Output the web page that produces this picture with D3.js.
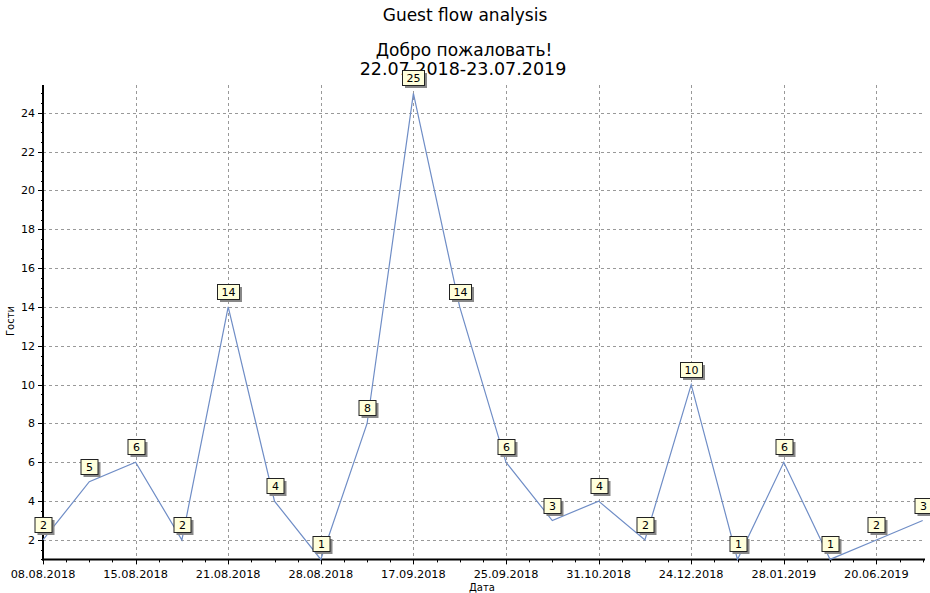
<!DOCTYPE html>
<html><head><meta charset="utf-8">
<script src="https://cdn.jsdelivr.net/npm/d3@7"></script>
<style>body{margin:0;background:#fff}svg{display:block}</style>
</head><body>
<svg id="c" width="930" height="593"></svg>
<script>
const values = [2,5,6,2,14,4,1,8,25,14,6,3,4,2,10,1,6,1,2,3];
const tickLabels = ["08.08.2018","15.08.2018","21.08.2018","28.08.2018","17.09.2018","25.09.2018","31.10.2018","24.12.2018","28.01.2019","20.06.2019"];
const yTicks = [2,4,6,8,10,12,14,16,18,20,22,24];
const title = "Guest flow analysis";
const subtitle1 = "Добро пожаловать!";
const subtitle2 = "22.07.2018-23.07.2019";
const xTitle = "Дата", yTitle = "Гости";

const svg = d3.select("#c");
const font = "DejaVu Sans, Verdana, sans-serif";
const L = 43, R = 922.7, T = 85, B = 559.4;
const x = d3.scaleLinear().domain([0, values.length-1]).range([L, R]);
const y = d3.scaleLinear().domain([1, 25.43]).range([B, T]);

// titles
svg.append("text").attr("x",465).attr("y",21).attr("text-anchor","middle")
  .attr("font-family",font).attr("font-size",17).text(title);
svg.append("text").attr("x",464).attr("y",56).attr("text-anchor","middle")
  .attr("font-family",font).attr("font-size",17).text(subtitle1);
svg.append("text").attr("x",463).attr("y",75).attr("text-anchor","middle")
  .attr("font-family",font).attr("font-size",17.5).text(subtitle2);

// grid
const g = svg.append("g");
g.selectAll(".hg").data(yTicks).join("line")
  .attr("x1",L).attr("x2",R).attr("y1",d=>Math.round(y(d))+0.5).attr("y2",d=>Math.round(y(d))+0.5)
  .attr("stroke","#999").attr("stroke-dasharray","3,3");
const majorIdx = tickLabels.map((t,i)=>i*2);
g.selectAll(".vg").data(majorIdx).join("line")
  .attr("y1",T).attr("y2",B).attr("x1",d=>Math.round(x(d))+0.5).attr("x2",d=>Math.round(x(d))+0.5)
  .attr("stroke","#999").attr("stroke-dasharray","3,3");

// minor ticks
const yMinor = d3.range(1, 25.5, 0.5);
g.selectAll(".ymt").data(yMinor).join("line")
  .attr("x1",L-2).attr("x2",L).attr("y1",d=>Math.round(y(d))+0.5).attr("y2",d=>Math.round(y(d))+0.5)
  .attr("stroke","#000");
g.selectAll(".ymj").data(yTicks).join("line")
  .attr("x1",L-5).attr("x2",L).attr("y1",d=>Math.round(y(d))+0.5).attr("y2",d=>Math.round(y(d))+0.5)
  .attr("stroke","#000");
const xMinor = d3.range(0, values.length-0.5+0.01, 0.5);
g.selectAll(".xmt").data(xMinor).join("line")
  .attr("y1",B).attr("y2",B+3).attr("x1",d=>Math.round(x(d))+0.5).attr("x2",d=>Math.round(x(d))+0.5)
  .attr("stroke","#000");
g.selectAll(".xmj").data(majorIdx).join("line")
  .attr("y1",B).attr("y2",B+5).attr("x1",d=>Math.round(x(d))+0.5).attr("x2",d=>Math.round(x(d))+0.5)
  .attr("stroke","#000");

// axes
svg.append("line").attr("x1",L).attr("x2",L).attr("y1",T).attr("y2",B+1).attr("stroke","#000").attr("stroke-width",2);
svg.append("line").attr("x1",L-1).attr("x2",925).attr("y1",B).attr("y2",B).attr("stroke","#000").attr("stroke-width",2);

// tick labels
svg.selectAll(".yl").data(yTicks).join("text")
  .attr("x",L-8).attr("y",d=>y(d)+4).attr("text-anchor","end")
  .attr("font-family",font).attr("font-size",11).text(d=>d);
svg.selectAll(".xl").data(tickLabels).join("text")
  .attr("x",(d,i)=>x(i*2)).attr("y",B+19).attr("text-anchor","middle")
  .attr("font-family",font).attr("font-size",11.3).text(d=>d);

svg.append("text").attr("x",482).attr("y",591).attr("text-anchor","middle")
  .attr("font-family",font).attr("font-size",10).text(xTitle);
svg.append("text").attr("transform","translate(14,321) rotate(-90)").attr("text-anchor","middle")
  .attr("font-family",font).attr("font-size",10).text(yTitle);

// line
svg.append("path").datum(values)
  .attr("d", d3.line().x((d,i)=>x(i)).y(d=>y(d)))
  .attr("fill","none").attr("stroke","#6f8dc6").attr("stroke-width",1.2);

// labels
const lab = svg.selectAll(".lab").data(values).join("g")
  .attr("transform",(d,i)=>`translate(${Math.round(x(i))},${Math.round(y(d))-8})`);
const bw = d => String(d).length > 1 ? 22 : 17;
lab.append("rect").attr("x",d=>-bw(d)/2+3).attr("y",-15+3).attr("width",bw).attr("height",15)
  .attr("fill","#888");
lab.append("rect").attr("x",d=>-bw(d)/2+0.5).attr("y",-15+0.5).attr("width",bw).attr("height",15)
  .attr("fill","#ffffdc").attr("stroke","#222").attr("stroke-width",1);
lab.append("text").attr("x",0.5).attr("y",-3).attr("text-anchor","middle")
  .attr("font-family",font).attr("font-size",11).text(d=>d);
</script>
</body></html>
